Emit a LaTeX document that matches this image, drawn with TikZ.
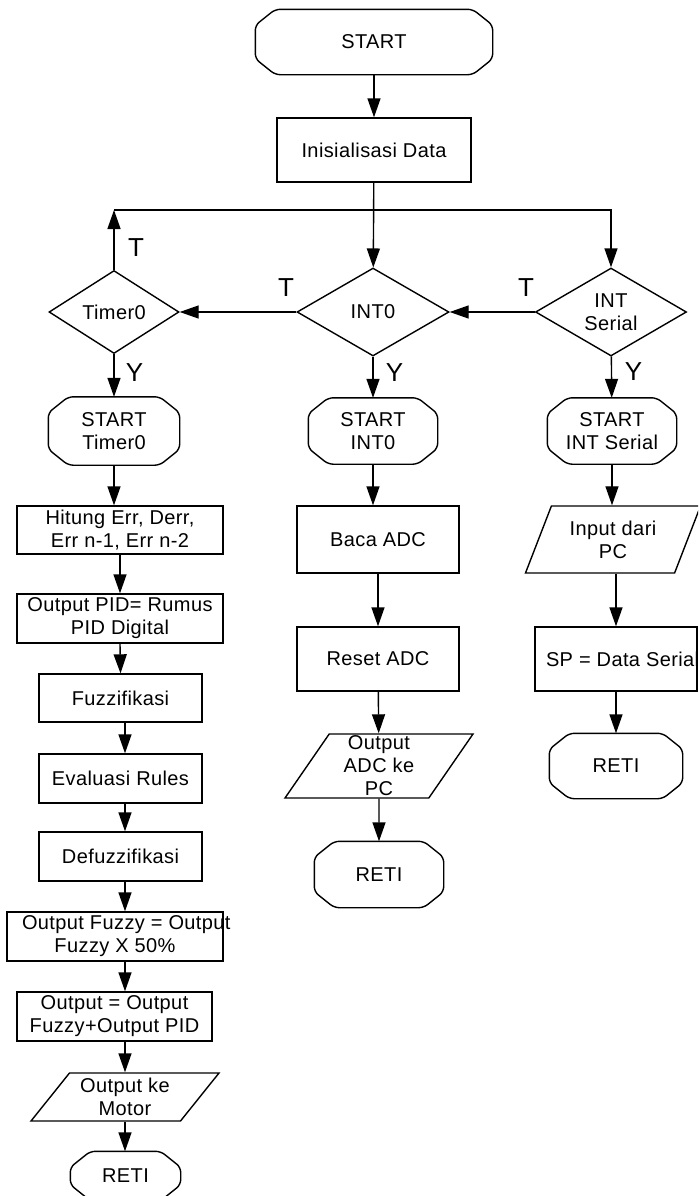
\documentclass[tikz,border=0pt]{standalone}
\usepackage{fontspec}
\setmainfont[LetterSpace=2]{Liberation Sans}
\usetikzlibrary{shapes.geometric,arrows.meta}

\def\chx{10pt}
\def\chy{8pt}

\tikzset{
  every node/.style={font=\fontsize{10pt}{11.5pt}\selectfont, align=center, inner sep=0pt},
  term/.style={rectangle, append after command={\pgfextra{
      \draw[rounded corners=2.5pt] ([xshift=\chx]\tikzlastnode.north west) -- ([xshift=-\chx]\tikzlastnode.north east)
        -- ([yshift=-\chy]\tikzlastnode.north east) -- ([yshift=\chy]\tikzlastnode.south east)
        -- ([xshift=-\chx]\tikzlastnode.south east) -- ([xshift=\chx]\tikzlastnode.south west)
        -- ([yshift=\chy]\tikzlastnode.south west) -- ([yshift=-\chy]\tikzlastnode.north west) -- cycle;}}},
  proc/.style={draw, rectangle},
  decision/.style={draw, diamond, shape aspect=1.7},
  io/.style={draw, trapezium, trapezium stretches body},
  arr/.style={-{Triangle[length=9.5pt,width=6.5pt]}},
  tylabel/.style={font=\fontsize{13pt}{15pt}\selectfont}
}

\begin{document}
\begin{tikzpicture}[x=0.5pt,y=-0.5pt,line width=0.7pt]
\clip (0,0) rectangle (698,1196);

% TOP
\node[term, minimum width=118pt, minimum height=32pt] (start) at (374,42) {START};
\node[proc, minimum width=97pt, minimum height=32pt] (init) at (374,150) {Inisialisasi Data};

% DECISIONS
\node[decision, minimum width=65pt, minimum height=41.5pt] (dTimer) at (114,312) {Timer0};
\node[decision, minimum width=76pt, minimum height=44pt] (dInt) at (373,312) {INT0};
\node[decision, minimum width=75.5pt, minimum height=44pt] (dSerial) at (611,312) {INT\\Serial};

\coordinate (topL) at (114,210);
\coordinate (topR) at (611,210);

% T / Y
\node[tylabel] (tTimer) at (136,248) {T};
\node[tylabel] (tInt) at (286,288) {T};
\node[tylabel] (tSerial) at (526,288) {T};
\node[tylabel] (yTimer) at (134.5,373) {Y};
\node[tylabel] (yInt) at (394.5,373) {Y};
\node[tylabel] (ySerial) at (633.5,372) {Y};

% LEFT COLUMN (Timer0)
\coordinate (colL) at (125,0);
\node[term, minimum width=65pt, minimum height=33.5pt] (stTimer) at (114,431) {START\\Timer0};
\node[proc, minimum width=103pt, minimum height=24pt] (hitung) at (120,530) {Hitung Err, Derr,\\Err n-1, Err n-2};
\node[proc, minimum width=103pt, minimum height=24.5pt] (opid) at (120,618.5) {Output PID= Rumus\\PID Digital};
\node[proc, minimum width=81.5pt, minimum height=24pt] (fuzz) at (120.5,698) {Fuzzifikasi};
\node[proc, minimum width=81.5pt, minimum height=24.5pt] (eval) at (120.5,778.5) {Evaluasi Rules};
\node[proc, minimum width=81.5pt, minimum height=24.5pt] (defuzz) at (120.5,856.5) {Defuzzifikasi};
\node[proc, minimum width=108pt, minimum height=24.5pt] (ofuzzy) at (115,936.5) {\makebox[93pt][l]{Output Fuzzy = Output}\\Fuzzy X 50\%};
\node[proc, minimum width=97.5pt, minimum height=24.5pt] (output) at (114.5,1016.5) {Output = Output\\Fuzzy+Output PID};
\node[io, trapezium left angle=44.4, trapezium right angle=135.6, minimum width=94pt, minimum height=24pt] (motor) at (125,1097) {Output ke\\Motor};
\node[term, minimum width=54.5pt, minimum height=24pt] (retiA) at (125.5,1176) {RETI};

% MIDDLE COLUMN (INT0)
\node[term, minimum width=64pt, minimum height=32.5pt] (stInt) at (373,431) {START\\INT0};
\node[proc, minimum width=81pt, minimum height=33.5pt] (baca) at (378,539.5) {Baca ADC};
\node[proc, minimum width=81pt, minimum height=32pt] (reset) at (378,659) {Reset ADC};
\node[io, trapezium left angle=53.7, trapezium right angle=126.3, minimum width=94pt, minimum height=32pt] (oadc) at (379,766) {Output\\ADC ke\\PC};
\node[term, minimum width=64pt, minimum height=32.5pt] (retiB) at (379,874.5) {RETI};

% RIGHT COLUMN (INT Serial)
\node[term, minimum width=64pt, minimum height=32.5pt] (stSer) at (612,431) {START\\INT Serial};
\node[io, trapezium left angle=55.5, trapezium right angle=124.5, minimum width=87.5pt, minimum height=33.5pt] (input) at (613,539.5) {Input dari\\PC};
\node[proc, minimum width=81pt, minimum height=32pt] (sp) at (616,659) {\makebox[70pt][l]{SP = Data Serial}};
\node[term, minimum width=66pt, minimum height=32pt] (retiC) at (616,766) {RETI};

% CONNECTORS
\draw[arr] (start) -- (init);
\draw[arr] (init) -- (dInt);
\draw[arr] (dTimer.north) -- (topL);
\draw[arr] (topL) -- (topR) -- (dSerial.north);
\draw[arr] (dInt.west) -- (dTimer.east);
\draw[arr] (dSerial.west) -- (dInt.east);

\draw[arr] (dTimer.south) -- (stTimer.north);
\draw[arr] (stTimer.south) -- (stTimer.south |- hitung.north);
\draw[arr] (hitung.south) -- (opid.north);
\draw[arr] (opid.south) -- (fuzz.north);
\draw[arr] (fuzz.south -| colL) -- (eval.north -| colL);
\draw[arr] (eval.south -| colL) -- (defuzz.north -| colL);
\draw[arr] (defuzz.south -| colL) -- (ofuzzy.north -| colL);
\draw[arr] (ofuzzy.south -| colL) -- (output.north -| colL);
\draw[arr] (output.south -| colL) -- (motor.north -| colL);
\draw[arr] (motor.south -| colL) -- (retiA.north -| colL);

\draw[arr] (dInt.south) -- (stInt.north);
\draw[arr] (stInt.south) -- (stInt.south |- baca.north);
\draw[arr] (baca) -- (reset);
\draw[arr] (reset) -- (oadc);
\draw[arr] (oadc) -- (retiB);

\draw[arr] (dSerial) -- (stSer);
\draw[arr] (stSer.south) -- (stSer.south |- input.north);
\draw[arr] (input.south -| sp) -- (sp.north);
\draw[arr] (sp) -- (retiC);
\end{tikzpicture}
\end{document}
